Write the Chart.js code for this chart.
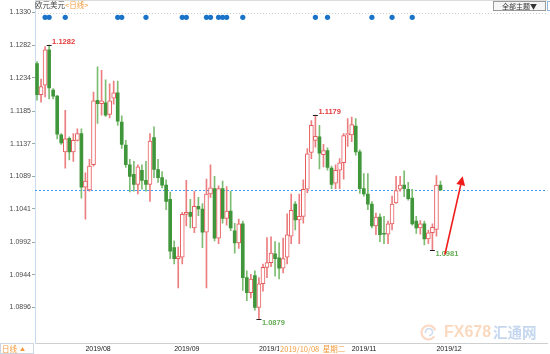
<!DOCTYPE html>
<html>
<head>
<meta charset="utf-8">
<script src="https://cdn.jsdelivr.net/npm/chart.js@4.4.1/dist/chart.umd.min.js"></script>
<style>
  html, body { margin: 0; padding: 0; background: #fff; }
  #wrap { width: 550px; height: 354px; }
  canvas { display: block; }
</style>
</head>
<body>
<div id="wrap"><canvas id="kline" width="550" height="354"></canvas></div>
<script>
/***********************
 * DATA (EUR/USD daily)
 ***********************/
const opens = [
  1.1255, 1.1209, 1.1223, 1.1275, 1.1216, 1.1207, 1.1150, 1.1125, 1.1145, 1.1125,
  1.1142, 1.1152, 1.1073, 1.1069, 1.1106, 1.1201, 1.1196, 1.1197, 1.1180, 1.1204,
  1.1212, 1.1169, 1.1135, 1.1106, 1.1092, 1.1077, 1.1098, 1.1083, 1.1077, 1.1146,
  1.1099, 1.1087, 1.1076, 1.1055, 1.0984, 1.0968, 1.0970, 1.1033, 1.1036, 1.1013,
  1.1045, 1.1041, 1.1007, 1.1063, 1.1071, 1.0998, 1.1071, 1.1027, 1.1038, 1.1009,
  1.0991, 1.1019, 1.0940, 1.0918, 1.0943, 1.0896, 1.0931, 1.0955, 1.0962, 1.0975,
  1.0969, 1.0954, 1.0970, 1.1001, 1.1048, 1.1025, 1.1030, 1.1070, 1.1124, 1.1142,
  1.1147, 1.1121, 1.1127, 1.1101, 1.1079, 1.1098, 1.1109, 1.1150, 1.1150, 1.1163,
  1.1125, 1.1071, 1.1063, 1.1048, 1.1016, 1.1029, 1.1005, 1.1004, 1.1019, 1.1050,
  1.1070, 1.1076, 1.1070, 1.1057, 1.1023, 1.1013, 1.1019, 1.0997, 1.1006, 1.1011,
  1.1076
];
const highs = [
  1.1258, 1.1232, 1.1280, 1.1282, 1.1218, 1.1208, 1.1152, 1.1186, 1.1147, 1.1152,
  1.1159, 1.1159, 1.1094, 1.1114, 1.1213, 1.1250, 1.1245, 1.1231, 1.1225, 1.1229,
  1.1229, 1.1178, 1.1142, 1.1114, 1.1111, 1.1106, 1.1106, 1.1111, 1.1152, 1.1162,
  1.1114, 1.1096, 1.1084, 1.1066, 1.0994, 1.0985, 1.1036, 1.1083, 1.1055, 1.1067,
  1.1058, 1.1049, 1.1085, 1.1106, 1.1089, 1.1075, 1.1082, 1.1074, 1.1067, 1.1020,
  1.1026, 1.1023, 1.0950, 1.0945, 1.0950, 1.0940, 1.0960, 1.0999, 1.1000, 1.0993,
  1.0991, 1.0998, 1.1034, 1.1063, 1.1052, 1.1063, 1.1084, 1.1130, 1.1171, 1.1179,
  1.1164, 1.1136, 1.1131, 1.1104, 1.1106, 1.1115, 1.1152, 1.1174, 1.1176, 1.1174,
  1.1128, 1.1093, 1.1093, 1.1052, 1.1035, 1.1034, 1.1030, 1.1023, 1.1060, 1.1089,
  1.1089, 1.1097, 1.1080, 1.1070, 1.1030, 1.1024, 1.1023, 1.1010, 1.1019, 1.1090,
  1.1082
];
const lows = [
  1.1201, 1.1198, 1.1206, 1.1203, 1.1203, 1.1144, 1.1136, 1.1101, 1.1113, 1.1111,
  1.1141, 1.1057, 1.1026, 1.1067, 1.1104, 1.1167, 1.1179, 1.1177, 1.1175, 1.1195,
  1.1164, 1.1130, 1.1102, 1.1066, 1.1067, 1.1063, 1.1070, 1.1067, 1.1052, 1.1087,
  1.1080, 1.1072, 1.1040, 1.0968, 1.0960, 1.0925, 1.0960, 1.1016, 1.1013, 1.1006,
  1.1031, 1.0984, 1.0925, 1.1058, 1.0994, 1.0990, 1.1020, 1.1017, 1.1009, 1.0976,
  1.0983, 1.0921, 1.0906, 1.0910, 1.0892, 1.0879, 1.0920, 1.0940, 1.0956, 1.0942,
  1.0938, 1.0947, 1.0960, 1.0990, 1.1010, 1.0990, 1.1020, 1.1065, 1.1115, 1.1132,
  1.1100, 1.1103, 1.1098, 1.1071, 1.1071, 1.1071, 1.1085, 1.1133, 1.1140, 1.1120,
  1.1064, 1.1060, 1.1040, 1.1013, 1.1003, 1.0993, 1.0990, 1.0990, 1.1010, 1.1049,
  1.1067, 1.1059, 1.1054, 1.1017, 1.1005, 1.1004, 1.0988, 1.0990, 1.0981, 1.1001,
  1.1068
];
const closes = [
  1.1209, 1.1221, 1.1275, 1.1219, 1.1207, 1.1151, 1.1138, 1.1144, 1.1125, 1.1142,
  1.1152, 1.1073, 1.1082, 1.1104, 1.1200, 1.1196, 1.1200, 1.1179, 1.1200, 1.1212,
  1.1170, 1.1136, 1.1106, 1.1089, 1.1077, 1.1103, 1.1083, 1.1077, 1.1141, 1.1099,
  1.1087, 1.1076, 1.1052, 1.0979, 1.0968, 1.0971, 1.1033, 1.1036, 1.1030, 1.1045,
  1.1041, 1.1007, 1.1063, 1.1072, 1.0998, 1.1071, 1.1027, 1.1038, 1.1013, 1.0991,
  1.1019, 1.0940, 1.0918, 1.0938, 1.0896, 1.0931, 1.0955, 1.0962, 1.0976, 1.0968,
  1.0954, 1.0968, 1.1003, 1.1039, 1.1025, 1.1030, 1.1070, 1.1122, 1.1164, 1.1148,
  1.1123, 1.1127, 1.1102, 1.1077, 1.1098, 1.1109, 1.1149, 1.1152, 1.1165, 1.1125,
  1.1071, 1.1063, 1.1048, 1.1016, 1.1029, 1.1003, 1.1004, 1.1019, 1.1048, 1.1068,
  1.1076, 1.1071, 1.1056, 1.1019, 1.1013, 1.1019, 1.0997, 1.1006, 1.1014, 1.1076,
  1.1069
];

const slotCount = 127; // candles + empty room on the right
const monthStart = [12, 34, 55, 78, 99];
const monthNames = ["2019/08", "2019/09", "2019/10", "2019/11", "2019/12"];
const yTicks = [1.0896, 1.0944, 1.0992, 1.1041, 1.1089, 1.1137, 1.1185, 1.1234, 1.1282, 1.1330];
const yMin = 1.08438;
const yMax = 1.13446;

const eventDots = [2, 3, 7, 20, 21, 27, 36, 37, 42, 43, 45, 46, 47, 51, 69, 72, 83, 88, 93];
const dotLevel = 1.1323;

const extremes = [
  { i: 3, v: 1.1282, kind: "high" },
  { i: 69, v: 1.1179, kind: "high" },
  { i: 55, v: 1.0879, kind: "low" },
  { i: 98, v: 1.0981, kind: "low" },
];
const arrowFrom = [101.1, 1.0974];
const arrowTo = [105.5, 1.1089];
const cursorIndex = 60;
const cursorText = "2019/10/08  星期二";

/***********************
 * STYLE
 ***********************/
const RED = "#e65c5e";
const RED_WICK = "#ec7e80";
const GREEN = "#40963a";
const GREEN_WICK = "#7dbd72";
const ORANGE = "#f39a3c";
const CJK = '"Noto Sans CJK SC", "Noto Sans", sans-serif';
const LAT = '"Liberation Sans", Arial, sans-serif';

/***********************
 * Helpers
 ***********************/
const isUp = (i) => closes[i] >= opens[i];

function bodyRange(i) {
  let a = Math.min(opens[i], closes[i]);
  let b = Math.max(opens[i], closes[i]);
  if (b - a < 0.00005) { a -= 0.00003; b += 0.00003; }
  return [a, b];
}

function pad(arr) {
  const out = arr.slice();
  while (out.length < slotCount) out.push(null);
  return out;
}

const labels = new Array(slotCount).fill("");
monthStart.forEach((idx, k) => (labels[idx] = monthNames[k]));

const wickData = pad(lows.map((l, i) => [l, highs[i]]));
const upData = pad(opens.map((o, i) => (isUp(i) ? bodyRange(i) : null)));
const downData = pad(opens.map((o, i) => (isUp(i) ? null : bodyRange(i))));
const wickColors = opens.map((o, i) => (isUp(i) ? RED_WICK : GREEN_WICK));
const dotData = new Array(slotCount).fill(null);
eventDots.forEach((i) => (dotData[i] = dotLevel));

/***********************
 * Decorations
 ***********************/
function drawText(ctx, txt, x, y, font, color, align) {
  ctx.font = font;
  ctx.fillStyle = color;
  ctx.textAlign = align || "left";
  ctx.textBaseline = "middle";
  ctx.fillText(txt, x, y);
}

const decor = {
  id: "decor",
  beforeDatasetsDraw(chart) {
    const { ctx, chartArea: a, scales } = chart;
    const y = scales.y;
    ctx.save();
    // top dotted grid line + frame
    ctx.strokeStyle = "#cfcfcf";
    ctx.lineWidth = 1;
    ctx.setLineDash([1, 2]);
    const gy = Math.round(y.getPixelForValue(yTicks[yTicks.length - 1])) + 0.5;
    ctx.beginPath(); ctx.moveTo(a.left, gy); ctx.lineTo(a.right, gy); ctx.stroke();
    // last price line
    ctx.strokeStyle = "#3d9bf5";
    ctx.setLineDash([2, 2]);
    const ly = Math.round(y.getPixelForValue(closes[closes.length - 1])) + 0.5;
    ctx.beginPath(); ctx.moveTo(a.left, ly); ctx.lineTo(a.right, ly); ctx.stroke();
    ctx.setLineDash([]);
    ctx.strokeStyle = "#dcdcdc";
    ctx.beginPath(); ctx.moveTo(a.left, 0.5); ctx.lineTo(a.right, 0.5); ctx.stroke();
    watermark(ctx);
    ctx.restore();
  },
  afterDraw(chart) {
    const { ctx, chartArea: a, scales } = chart;
    const x = scales.x, y = scales.y;
    ctx.save();

    // title
    drawText(ctx, "欧元美元", 35, 5, "7.5px " + CJK, "#444");
    drawText(ctx, "<日线>", 65, 5, "7.5px " + CJK, ORANGE);

    // button top right
    ctx.fillStyle = "#f6f6f6";
    ctx.fillRect(493.5, 1.5, 52, 9);
    ctx.strokeStyle = "#9a9a9a";
    ctx.strokeRect(493.5, 1.5, 52, 9);
    drawText(ctx, "全部主题▼", 519.5, 6.5, "7px " + CJK, "#333", "center");
    ctx.strokeStyle = "#8fb8e0";
    ctx.strokeRect(547.5, 1.5, 4, 9);

    // high / low marks
    extremes.forEach((m) => {
      const px = x.getPixelForValue(m.i);
      const py = y.getPixelForValue(m.v);
      ctx.strokeStyle = "#222";
      ctx.beginPath();
      ctx.moveTo(px - 2.5, Math.round(py) + 0.5);
      ctx.lineTo(px + 2.5, Math.round(py) + 0.5);
      ctx.stroke();
      const ty = m.kind === "high" ? py - 3 : py + 4;
      const col = m.kind === "high" ? "#e23a3a" : "#66ad55";
      drawText(ctx, m.v.toFixed(4), px + 3, ty, "bold 7.5px " + LAT, col);
    });

    // red arrow
    const x0 = x.getPixelForValue(arrowFrom[0]), y0 = y.getPixelForValue(arrowFrom[1]);
    const x1 = x.getPixelForValue(arrowTo[0]), y1 = y.getPixelForValue(arrowTo[1]);
    const ang = Math.atan2(y1 - y0, x1 - x0);
    const hl = 9, hw = 4.5;
    const bx = x1 - hl * Math.cos(ang), by = y1 - hl * Math.sin(ang);
    ctx.strokeStyle = "#f01c1c";
    ctx.fillStyle = "#f01c1c";
    ctx.lineWidth = 1.6;
    ctx.beginPath(); ctx.moveTo(x0, y0); ctx.lineTo(bx, by); ctx.stroke();
    ctx.beginPath();
    ctx.moveTo(x1, y1);
    ctx.lineTo(bx + hw * Math.sin(ang), by - hw * Math.cos(ang));
    ctx.lineTo(bx - hw * Math.sin(ang), by + hw * Math.cos(ang));
    ctx.closePath(); ctx.fill();

    // bottom row: period box + cursor date
    ctx.lineWidth = 1;
    ctx.fillStyle = "#fff";
    ctx.fillRect(0, a.bottom + 0.5, 34, 354 - a.bottom);
    ctx.strokeStyle = "#cdd6e0";
    ctx.strokeRect(0.5, a.bottom + 0.5, 33, 10);
    drawText(ctx, "日线", 2, a.bottom + 6, "7.5px " + CJK, ORANGE);
    drawText(ctx, "▲", 20, a.bottom + 6, "5px " + CJK, ORANGE);

    const cx = x.getPixelForValue(cursorIndex);
    ctx.font = "7.5px " + CJK;
    const w = ctx.measureText(cursorText).width;
    ctx.fillStyle = "#fff";
    ctx.fillRect(cx, a.bottom + 1.5, w + 2, 9);
    drawText(ctx, cursorText, cx + 1, a.bottom + 6, "7.5px " + CJK, ORANGE);
    ctx.restore();
  },
};

function watermark(ctx) {
  ctx.save();
  ctx.globalAlpha = 0.4;
  // swirl logo
  ctx.lineWidth = 2.2;
  ctx.strokeStyle = "#f0a070";
  ctx.beginPath(); ctx.arc(428.5, 332.5, 7, 0.6, Math.PI * 1.9); ctx.stroke();
  ctx.strokeStyle = "#7fa8d8";
  ctx.lineWidth = 1.6;
  ctx.beginPath(); ctx.arc(429, 332, 3.5, Math.PI * 0.9, Math.PI * 2.5); ctx.stroke();
  drawText(ctx, "FX678", 444, 332.5, "bold 16px " + LAT, "#f6a060");
  drawText(ctx, "汇通网", 493, 332.5, "bold 14.5px " + CJK, "#6c9ad4");
  ctx.restore();
}

/***********************
 * Chart
 ***********************/
function init() {
  const canvas = document.getElementById("kline");

  new Chart(canvas, {
    data: {
      labels,
      datasets: [
        {
          type: "line",
          data: dotData,
          showLine: false,
          pointRadius: 2.6,
          pointHoverRadius: 2.6,
          pointBackgroundColor: "#1a73c8",
          pointBorderWidth: 0,
          order: 0,
        },
        {
          type: "bar",
          data: upData,
          backgroundColor: "#fff",
          borderColor: RED,
          borderWidth: 1,
          borderSkipped: false,
          barThickness: 4,
          grouped: false,
          order: 1,
        },
        {
          type: "bar",
          data: downData,
          backgroundColor: GREEN,
          borderWidth: 0,
          barThickness: 3,
          grouped: false,
          order: 1,
        },
        {
          type: "bar",
          data: wickData,
          backgroundColor: wickColors,
          borderWidth: 0,
          barThickness: 1,
          grouped: false,
          order: 2,
        },
      ],
    },
    options: {
      responsive: false,
      animation: false,
      devicePixelRatio: 1,
      layout: { padding: 0 },
      plugins: { legend: { display: false }, tooltip: { enabled: false } },
      events: [],
      scales: {
        x: {
          type: "category",
          offset: true,
          grid: { display: false, drawTicks: false },
          border: { display: true, color: "#cfcfcf" },
          ticks: {
            autoSkip: false,
            maxRotation: 0,
            align: "start",
            padding: 2,
            color: "#1a1a1a",
            font: { family: LAT, size: 7 },
          },
          afterFit: (s) => {
            s.height = 11;
            s.paddingLeft = 0;
            s.paddingRight = 0;
          },
        },
        y: {
          type: "linear",
          position: "left",
          min: yMin,
          max: yMax,
          afterBuildTicks: (s) => {
            s.ticks = yTicks.map((v) => ({ value: v }));
          },
          afterFit: (s) => {
            s.width = 35;
            s.paddingTop = 0;
            s.paddingBottom = 0;
          },
          grid: { drawOnChartArea: false, tickLength: 3, tickColor: "#9aa" },
          border: { display: true, color: "#c9dcef" },
          ticks: {
            padding: 1,
            color: "#4a4a4a",
            font: { family: LAT, size: 7 },
            callback: (v) => Number(v).toFixed(4),
          },
        },
      },
    },
    plugins: [decor],
  });
}

document.addEventListener("DOMContentLoaded", init);
</script>
</body>
</html>
